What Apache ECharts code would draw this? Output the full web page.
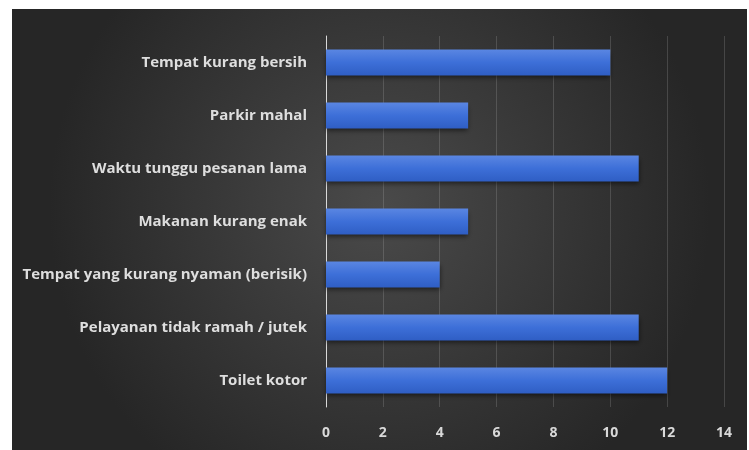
<!DOCTYPE html>
<html>
<head>
<meta charset="utf-8">
<script src="https://cdn.jsdelivr.net/npm/echarts@6/dist/echarts.min.js"></script>
<style>
html,body{margin:0;padding:0;background:#ffffff;}
#chart{width:749px;height:450px;}
</style>
</head>
<body>
<div id="chart"></div>
<script>
// Categories listed bottom-to-top (ECharts category y-axis starts at the bottom)
const categories = [
  "Toilet kotor",
  "Pelayanan tidak ramah / jutek",
  "Tempat yang kurang nyaman (berisik)",
  "Makanan kurang enak",
  "Waktu tunggu pesanan lama",
  "Parkir mahal",
  "Tempat kurang bersih"
];
const values = [12, 11, 4, 5, 11, 5, 10];
const xTicks = [0, 2, 4, 6, 8, 10, 12, 14];

const chart = echarts.init(document.getElementById('chart'), null, {renderer: 'canvas'});
const option = {
  backgroundColor: '#ffffff',
  animation: false,
  graphic: [{
    type: 'rect',
    z: -10,
    silent: true,
    shape: {x: 12, y: 9, width: 735, height: 441},
    style: {
      fill: new echarts.graphic.RadialGradient(0.5, 0.45, 0.75, [
        {offset: 0, color: '#4a4a4a'},
        {offset: 1, color: '#262626'}
      ])
    }
  }],
  grid: {left: 326, right: 25, top: 36, bottom: 43, containLabel: false},
  xAxis: {
    type: 'value',
    min: xTicks[0],
    max: xTicks[xTicks.length - 1],
    interval: 2,
    axisLine: {show: false},
    axisTick: {show: false},
    splitLine: {show: true, lineStyle: {color: 'rgba(200,200,200,0.2)', width: 1}},
    axisLabel: {
      color: '#d9d9d9',
      fontFamily: 'Open Sans, Liberation Sans, sans-serif',
      fontWeight: 'bold',
      fontSize: 14,
      margin: 19
    }
  },
  yAxis: {
    type: 'category',
    data: categories,
    axisLine: {show: true, lineStyle: {color: '#d9d9d9', width: 1}},
    axisTick: {show: false},
    axisLabel: {
      color: '#dedede',
      fontFamily: 'Open Sans, Liberation Sans, sans-serif',
      fontWeight: 'bold',
      fontSize: 15,
      margin: 19
    }
  },
  series: [{
    type: 'bar',
    data: values,
    barCategoryGap: '51%',
    itemStyle: {
      color: new echarts.graphic.LinearGradient(0, 0, 0, 1, [
        {offset: 0, color: '#5a86e2'},
        {offset: 0.5, color: '#3d6fd8'},
        {offset: 1, color: '#2f5ec4'}
      ]),
      shadowColor: 'rgba(0,0,0,0.55)',
      shadowBlur: 5,
      shadowOffsetY: 3
    }
  }]
};
chart.setOption(option);
</script>
</body>
</html>
